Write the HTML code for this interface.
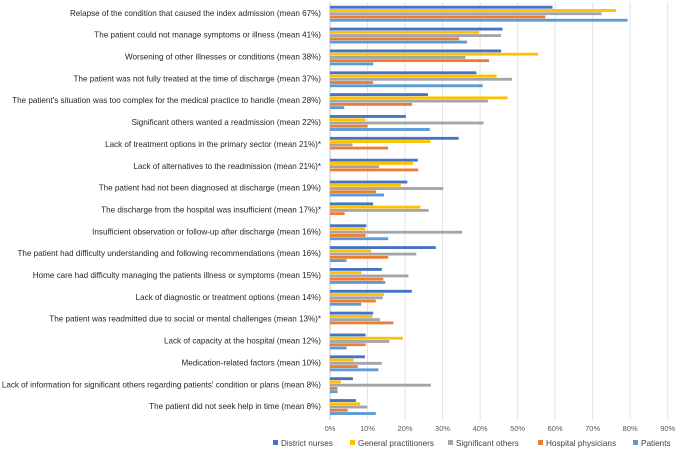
<!DOCTYPE html>
<html><head><meta charset="utf-8"><style>
body{margin:0;background:#fff;}
svg{display:block;font-family:"Liberation Sans",sans-serif;}
</style></head><body>
<svg id="chart" width="676" height="452"></svg>
<script>
const categories=["Relapse of the condition that caused the index admission (mean 67%)","The patient could not manage symptoms or illness (mean 41%)","Worsening of other illnesses or conditions (mean 38%)","The patient was not fully treated at the time of discharge (mean 37%)","The patient's situation was too complex for the medical practice to handle (mean 28%)","Significant others wanted a readmission (mean 22%)","Lack of treatment options in the primary sector (mean 21%)*","Lack of alternatives to the readmission (mean 21%)*","The patient had not been diagnosed at discharge (mean 19%)","The discharge from the hospital was insufficient (mean 17%)*","Insufficient observation or follow-up after discharge (mean 16%)","The patient had difficulty understanding and following recommendations (mean 16%)","Home care had difficulty managing the patients illness or symptoms (mean 15%)","Lack of diagnostic or treatment options (mean 14%)","The patient was readmitted due to social or mental challenges (mean 13%)*","Lack of capacity at the hospital (mean 12%)","Medication-related factors (mean 10%)","Lack of information for significant others regarding patients' condition or plans (mean 8%)","The patient did not seek help in time (mean 8%)"];
const seriesNames=["District nurses","General practitioners","Significant others","Hospital physicians","Patients"];
const districtNurses=[59.3,46,45.6,39,26.1,20.2,34.3,23.4,20.6,11.5,9.7,28.2,13.8,21.8,11.5,9.5,9.3,6.1,6.9];
const generalPractitioners=[76.2,39.7,55.5,44.4,47.3,9.5,26.8,22.1,18.9,24.1,9.4,11,8.4,14.4,11.3,19.4,6.3,2.9,8];
const significantOthers=[72.4,45.6,36.1,48.5,42.1,40.9,6,13.1,30.2,26.3,35.2,23,20.9,14.1,13.3,15.8,13.8,26.9,9.9];
const hospitalPhysicians=[57.4,34.4,42.4,11.5,21.9,10,15.5,23.5,12.3,3.9,9.5,15.5,14.2,12.2,16.9,9.5,7.4,2,4.7];
const patients=[79.3,36.5,11.5,40.7,3.8,26.6,0,0,14.4,0,15.5,4.4,14.7,8.3,0,4.4,12.9,2,12.2];
const tickValues=[0,10,20,30,40,50,60,70,80,90];
const colors=["#4472C4","#FFC000","#A5A5A5","#ED7D31","#5B9BD5"];
const allSeries=[districtNurses,generalPractitioners,significantOthers,hospitalPhysicians,patients];
const NS="http://www.w3.org/2000/svg";
const svg=document.getElementById('chart');
const x0=330,x1=667.7,xMax=90,top0=5.8,pitch=21.85,barH=3.25;
const xs=v=>x0+(v/xMax)*(x1-x0);
const yg=i=>top0+i*pitch;
function mk(t,a){const e=document.createElementNS(NS,t);for(const k in a)e.setAttribute(k,a[k]);svg.appendChild(e);return e;}
tickValues.forEach(t=>{
  const g=mk('line',{x1:xs(t),x2:xs(t),y1:2,y2:420,stroke:t===0?'#bfbfbf':'#e3e3e3','stroke-width':1});
  
  
  const l=mk('text',{x:xs(t),y:431,'font-size':7.5,fill:'#595959','text-anchor':'middle'});
  l.textContent=t+'%';
  
  
});
categories.forEach((c,i)=>{
  const t=mk('text',{x:321,y:yg(i)+10,'font-size':8.1,fill:'#262626','text-anchor':'end'});
  t.textContent=c;
  
  
  allSeries.forEach((s,j)=>{
    if(s[i]<=0)return;
    const r=mk('rect',{x:x0,y:yg(i)+j*barH,width:xs(s[i])-x0,height:barH-0.4,fill:colors[j]});
    
    
  });
});
const legX=[273,350,448,538,633];
seriesNames.forEach((n,j)=>{
  const r=mk('rect',{x:legX[j],y:440,width:5,height:5,fill:colors[j]});
  
  
  const t=mk('text',{x:legX[j]+8,y:446,'font-size':8.2,fill:'#404040'});
  t.textContent=n;
  
  
});
</script>
</body></html>
